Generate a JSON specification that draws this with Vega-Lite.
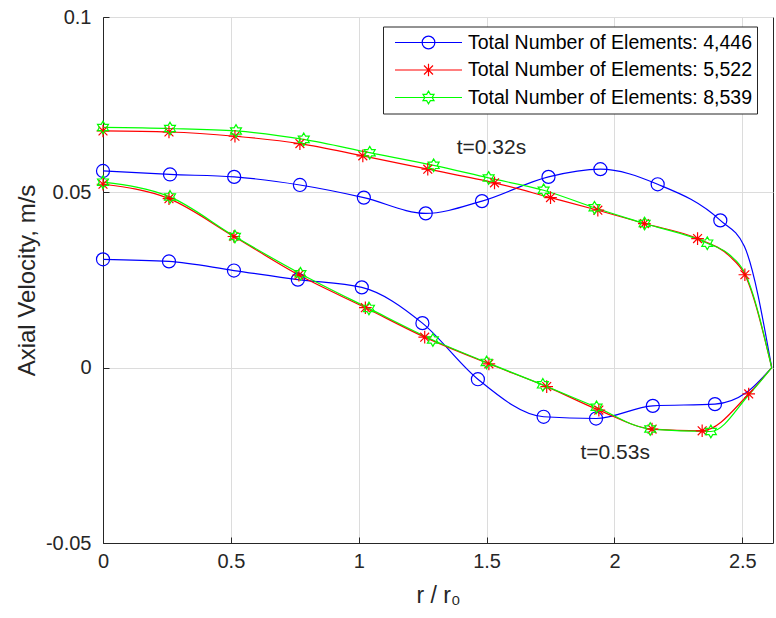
{
  "$schema": "https://vega.github.io/schema/vega-lite/v6.json",
  "width": 670,
  "height": 526,
  "autosize": {"type": "none"},
  "padding": {"left": 103, "top": 17, "right": 3, "bottom": 75},
  "background": "white",
  "datasets": {
    "curves": [
      {"series": "Total Number of Elements: 4,446", "t": "0.32s", "r": 0, "v": 0.0561},
      {"series": "Total Number of Elements: 4,446", "t": "0.32s", "r": 0.262, "v": 0.0551},
      {"series": "Total Number of Elements: 4,446", "t": "0.32s", "r": 0.513, "v": 0.0544},
      {"series": "Total Number of Elements: 4,446", "t": "0.32s", "r": 0.77, "v": 0.0521},
      {"series": "Total Number of Elements: 4,446", "t": "0.32s", "r": 1.02, "v": 0.0485},
      {"series": "Total Number of Elements: 4,446", "t": "0.32s", "r": 1.262, "v": 0.044},
      {"series": "Total Number of Elements: 4,446", "t": "0.32s", "r": 1.482, "v": 0.0475},
      {"series": "Total Number of Elements: 4,446", "t": "0.32s", "r": 1.742, "v": 0.0544},
      {"series": "Total Number of Elements: 4,446", "t": "0.32s", "r": 1.945, "v": 0.0566},
      {"series": "Total Number of Elements: 4,446", "t": "0.32s", "r": 2.169, "v": 0.0523},
      {"series": "Total Number of Elements: 4,446", "t": "0.32s", "r": 2.414, "v": 0.042},
      {"series": "Total Number of Elements: 4,446", "t": "0.32s", "r": 2.508, "v": 0.0346},
      {"series": "Total Number of Elements: 4,446", "t": "0.32s", "r": 2.615, "v": 0},
      {"series": "Total Number of Elements: 4,446", "t": "0.53s", "r": 0, "v": 0.0309},
      {"series": "Total Number of Elements: 4,446", "t": "0.53s", "r": 0.258, "v": 0.0303},
      {"series": "Total Number of Elements: 4,446", "t": "0.53s", "r": 0.512, "v": 0.0277},
      {"series": "Total Number of Elements: 4,446", "t": "0.53s", "r": 0.762, "v": 0.0251},
      {"series": "Total Number of Elements: 4,446", "t": "0.53s", "r": 1.012, "v": 0.0229},
      {"series": "Total Number of Elements: 4,446", "t": "0.53s", "r": 1.249, "v": 0.0127},
      {"series": "Total Number of Elements: 4,446", "t": "0.53s", "r": 1.466, "v": -0.0033},
      {"series": "Total Number of Elements: 4,446", "t": "0.53s", "r": 1.723, "v": -0.014},
      {"series": "Total Number of Elements: 4,446", "t": "0.53s", "r": 1.928, "v": -0.0145},
      {"series": "Total Number of Elements: 4,446", "t": "0.53s", "r": 2.15, "v": -0.0109},
      {"series": "Total Number of Elements: 4,446", "t": "0.53s", "r": 2.393, "v": -0.0104},
      {"series": "Total Number of Elements: 4,446", "t": "0.53s", "r": 2.516, "v": -0.0071},
      {"series": "Total Number of Elements: 4,446", "t": "0.53s", "r": 2.615, "v": 0},
      {"series": "Total Number of Elements: 5,522", "t": "0.32s", "r": 0, "v": 0.0675},
      {"series": "Total Number of Elements: 5,522", "t": "0.32s", "r": 0.258, "v": 0.0672},
      {"series": "Total Number of Elements: 5,522", "t": "0.32s", "r": 0.516, "v": 0.066},
      {"series": "Total Number of Elements: 5,522", "t": "0.32s", "r": 0.77, "v": 0.0639},
      {"series": "Total Number of Elements: 5,522", "t": "0.32s", "r": 1.016, "v": 0.0604},
      {"series": "Total Number of Elements: 5,522", "t": "0.32s", "r": 1.27, "v": 0.0566},
      {"series": "Total Number of Elements: 5,522", "t": "0.32s", "r": 1.531, "v": 0.0527},
      {"series": "Total Number of Elements: 5,522", "t": "0.32s", "r": 1.75, "v": 0.0485},
      {"series": "Total Number of Elements: 5,522", "t": "0.32s", "r": 1.935, "v": 0.0449},
      {"series": "Total Number of Elements: 5,522", "t": "0.32s", "r": 2.117, "v": 0.0411},
      {"series": "Total Number of Elements: 5,522", "t": "0.32s", "r": 2.325, "v": 0.0368},
      {"series": "Total Number of Elements: 5,522", "t": "0.32s", "r": 2.45, "v": 0.0318},
      {"series": "Total Number of Elements: 5,522", "t": "0.32s", "r": 2.51, "v": 0.0265},
      {"series": "Total Number of Elements: 5,522", "t": "0.32s", "r": 2.615, "v": 0},
      {"series": "Total Number of Elements: 5,522", "t": "0.53s", "r": 0, "v": 0.0523},
      {"series": "Total Number of Elements: 5,522", "t": "0.53s", "r": 0.258, "v": 0.0482},
      {"series": "Total Number of Elements: 5,522", "t": "0.53s", "r": 0.512, "v": 0.0374},
      {"series": "Total Number of Elements: 5,522", "t": "0.53s", "r": 0.766, "v": 0.0264},
      {"series": "Total Number of Elements: 5,522", "t": "0.53s", "r": 1.026, "v": 0.0171},
      {"series": "Total Number of Elements: 5,522", "t": "0.53s", "r": 1.258, "v": 0.0087},
      {"series": "Total Number of Elements: 5,522", "t": "0.53s", "r": 1.509, "v": 0.0011},
      {"series": "Total Number of Elements: 5,522", "t": "0.53s", "r": 1.735, "v": -0.0054},
      {"series": "Total Number of Elements: 5,522", "t": "0.53s", "r": 1.939, "v": -0.0121},
      {"series": "Total Number of Elements: 5,522", "t": "0.53s", "r": 2.147, "v": -0.0175},
      {"series": "Total Number of Elements: 5,522", "t": "0.53s", "r": 2.343, "v": -0.018},
      {"series": "Total Number of Elements: 5,522", "t": "0.53s", "r": 2.525, "v": -0.0075},
      {"series": "Total Number of Elements: 5,522", "t": "0.53s", "r": 2.615, "v": 0},
      {"series": "Total Number of Elements: 8,539", "t": "0.32s", "r": 0, "v": 0.0685},
      {"series": "Total Number of Elements: 8,539", "t": "0.32s", "r": 0.262, "v": 0.0682},
      {"series": "Total Number of Elements: 8,539", "t": "0.32s", "r": 0.52, "v": 0.0675},
      {"series": "Total Number of Elements: 8,539", "t": "0.32s", "r": 0.785, "v": 0.0651},
      {"series": "Total Number of Elements: 8,539", "t": "0.32s", "r": 1.043, "v": 0.0613},
      {"series": "Total Number of Elements: 8,539", "t": "0.32s", "r": 1.293, "v": 0.0577},
      {"series": "Total Number of Elements: 8,539", "t": "0.32s", "r": 1.508, "v": 0.0541},
      {"series": "Total Number of Elements: 8,539", "t": "0.32s", "r": 1.723, "v": 0.0506},
      {"series": "Total Number of Elements: 8,539", "t": "0.32s", "r": 1.922, "v": 0.0456},
      {"series": "Total Number of Elements: 8,539", "t": "0.32s", "r": 2.118, "v": 0.0411},
      {"series": "Total Number of Elements: 8,539", "t": "0.32s", "r": 2.363, "v": 0.0355},
      {"series": "Total Number of Elements: 8,539", "t": "0.32s", "r": 2.45, "v": 0.0322},
      {"series": "Total Number of Elements: 8,539", "t": "0.32s", "r": 2.51, "v": 0.027},
      {"series": "Total Number of Elements: 8,539", "t": "0.32s", "r": 2.615, "v": 0},
      {"series": "Total Number of Elements: 8,539", "t": "0.53s", "r": 0, "v": 0.0529},
      {"series": "Total Number of Elements: 8,539", "t": "0.53s", "r": 0.262, "v": 0.0487},
      {"series": "Total Number of Elements: 8,539", "t": "0.53s", "r": 0.516, "v": 0.0374},
      {"series": "Total Number of Elements: 8,539", "t": "0.53s", "r": 0.772, "v": 0.0268},
      {"series": "Total Number of Elements: 8,539", "t": "0.53s", "r": 1.04, "v": 0.0169},
      {"series": "Total Number of Elements: 8,539", "t": "0.53s", "r": 1.29, "v": 0.0079},
      {"series": "Total Number of Elements: 8,539", "t": "0.53s", "r": 1.5, "v": 0.0015},
      {"series": "Total Number of Elements: 8,539", "t": "0.53s", "r": 1.72, "v": -0.0049},
      {"series": "Total Number of Elements: 8,539", "t": "0.53s", "r": 1.93, "v": -0.0113},
      {"series": "Total Number of Elements: 8,539", "t": "0.53s", "r": 2.14, "v": -0.0175},
      {"series": "Total Number of Elements: 8,539", "t": "0.53s", "r": 2.377, "v": -0.0182},
      {"series": "Total Number of Elements: 8,539", "t": "0.53s", "r": 2.525, "v": -0.0078},
      {"series": "Total Number of Elements: 8,539", "t": "0.53s", "r": 2.615, "v": 0}
    ],
    "markers": [
      {"series": "Total Number of Elements: 4,446", "r": 0, "v": 0.0561},
      {"series": "Total Number of Elements: 4,446", "r": 0.262, "v": 0.0551},
      {"series": "Total Number of Elements: 4,446", "r": 0.513, "v": 0.0544},
      {"series": "Total Number of Elements: 4,446", "r": 0.77, "v": 0.0521},
      {"series": "Total Number of Elements: 4,446", "r": 1.02, "v": 0.0485},
      {"series": "Total Number of Elements: 4,446", "r": 1.262, "v": 0.044},
      {"series": "Total Number of Elements: 4,446", "r": 1.482, "v": 0.0475},
      {"series": "Total Number of Elements: 4,446", "r": 1.742, "v": 0.0544},
      {"series": "Total Number of Elements: 4,446", "r": 1.945, "v": 0.0566},
      {"series": "Total Number of Elements: 4,446", "r": 2.169, "v": 0.0523},
      {"series": "Total Number of Elements: 4,446", "r": 2.414, "v": 0.042},
      {"series": "Total Number of Elements: 4,446", "r": 0, "v": 0.0309},
      {"series": "Total Number of Elements: 4,446", "r": 0.258, "v": 0.0303},
      {"series": "Total Number of Elements: 4,446", "r": 0.512, "v": 0.0277},
      {"series": "Total Number of Elements: 4,446", "r": 0.762, "v": 0.0251},
      {"series": "Total Number of Elements: 4,446", "r": 1.012, "v": 0.0229},
      {"series": "Total Number of Elements: 4,446", "r": 1.249, "v": 0.0127},
      {"series": "Total Number of Elements: 4,446", "r": 1.466, "v": -0.0033},
      {"series": "Total Number of Elements: 4,446", "r": 1.723, "v": -0.014},
      {"series": "Total Number of Elements: 4,446", "r": 1.928, "v": -0.0145},
      {"series": "Total Number of Elements: 4,446", "r": 2.15, "v": -0.0109},
      {"series": "Total Number of Elements: 4,446", "r": 2.393, "v": -0.0104},
      {"series": "Total Number of Elements: 5,522", "r": 0, "v": 0.0675},
      {"series": "Total Number of Elements: 5,522", "r": 0.258, "v": 0.0672},
      {"series": "Total Number of Elements: 5,522", "r": 0.516, "v": 0.066},
      {"series": "Total Number of Elements: 5,522", "r": 0.77, "v": 0.0639},
      {"series": "Total Number of Elements: 5,522", "r": 1.016, "v": 0.0604},
      {"series": "Total Number of Elements: 5,522", "r": 1.27, "v": 0.0566},
      {"series": "Total Number of Elements: 5,522", "r": 1.531, "v": 0.0527},
      {"series": "Total Number of Elements: 5,522", "r": 1.75, "v": 0.0485},
      {"series": "Total Number of Elements: 5,522", "r": 1.935, "v": 0.0449},
      {"series": "Total Number of Elements: 5,522", "r": 2.117, "v": 0.0411},
      {"series": "Total Number of Elements: 5,522", "r": 2.325, "v": 0.0368},
      {"series": "Total Number of Elements: 5,522", "r": 2.51, "v": 0.0265},
      {"series": "Total Number of Elements: 5,522", "r": 0, "v": 0.0523},
      {"series": "Total Number of Elements: 5,522", "r": 0.258, "v": 0.0482},
      {"series": "Total Number of Elements: 5,522", "r": 0.512, "v": 0.0374},
      {"series": "Total Number of Elements: 5,522", "r": 0.766, "v": 0.0264},
      {"series": "Total Number of Elements: 5,522", "r": 1.026, "v": 0.0171},
      {"series": "Total Number of Elements: 5,522", "r": 1.258, "v": 0.0087},
      {"series": "Total Number of Elements: 5,522", "r": 1.509, "v": 0.0011},
      {"series": "Total Number of Elements: 5,522", "r": 1.735, "v": -0.0054},
      {"series": "Total Number of Elements: 5,522", "r": 1.939, "v": -0.0121},
      {"series": "Total Number of Elements: 5,522", "r": 2.147, "v": -0.0175},
      {"series": "Total Number of Elements: 5,522", "r": 2.343, "v": -0.018},
      {"series": "Total Number of Elements: 5,522", "r": 2.525, "v": -0.0075},
      {"series": "Total Number of Elements: 8,539", "r": 0, "v": 0.0685},
      {"series": "Total Number of Elements: 8,539", "r": 0.262, "v": 0.0682},
      {"series": "Total Number of Elements: 8,539", "r": 0.52, "v": 0.0675},
      {"series": "Total Number of Elements: 8,539", "r": 0.785, "v": 0.0651},
      {"series": "Total Number of Elements: 8,539", "r": 1.043, "v": 0.0613},
      {"series": "Total Number of Elements: 8,539", "r": 1.293, "v": 0.0577},
      {"series": "Total Number of Elements: 8,539", "r": 1.508, "v": 0.0541},
      {"series": "Total Number of Elements: 8,539", "r": 1.723, "v": 0.0506},
      {"series": "Total Number of Elements: 8,539", "r": 1.922, "v": 0.0456},
      {"series": "Total Number of Elements: 8,539", "r": 2.118, "v": 0.0411},
      {"series": "Total Number of Elements: 8,539", "r": 2.363, "v": 0.0355},
      {"series": "Total Number of Elements: 8,539", "r": 0, "v": 0.0529},
      {"series": "Total Number of Elements: 8,539", "r": 0.262, "v": 0.0487},
      {"series": "Total Number of Elements: 8,539", "r": 0.516, "v": 0.0374},
      {"series": "Total Number of Elements: 8,539", "r": 0.772, "v": 0.0268},
      {"series": "Total Number of Elements: 8,539", "r": 1.04, "v": 0.0169},
      {"series": "Total Number of Elements: 8,539", "r": 1.29, "v": 0.0079},
      {"series": "Total Number of Elements: 8,539", "r": 1.5, "v": 0.0015},
      {"series": "Total Number of Elements: 8,539", "r": 1.72, "v": -0.0049},
      {"series": "Total Number of Elements: 8,539", "r": 1.93, "v": -0.0113},
      {"series": "Total Number of Elements: 8,539", "r": 2.14, "v": -0.0175},
      {"series": "Total Number of Elements: 8,539", "r": 2.377, "v": -0.0182}
    ],
    "notes": [
      {"label": "t=0.32s", "r": 1.383, "v": 0.0626},
      {"label": "t=0.53s", "r": 1.867, "v": -0.0243}
    ]
  },
  "layer": [
    {
      "data": {"name": "curves"},
      "mark": {"type": "line", "interpolate": "monotone", "strokeWidth": 1.2},
      "encoding": {
        "x": {"field": "r", "type": "quantitative"},
        "y": {"field": "v", "type": "quantitative"},
        "color": {
          "field": "series", "type": "nominal",
          "scale": {
            "domain": ["Total Number of Elements: 4,446", "Total Number of Elements: 5,522", "Total Number of Elements: 8,539"],
            "range": ["#0000ff", "#ff0000", "#00ff00"]
          }
        },
        "detail": {"field": "t", "type": "nominal"}
      }
    },
    {
      "data": {"name": "markers"},
      "transform": [{"filter": "datum.series == 'Total Number of Elements: 4,446'"}],
      "mark": {"type": "point", "filled": false, "strokeWidth": 1.2, "size": 170, "opacity": 1, "color": "#0000ff",
        "shape": "M-1,0A1,1 0 1,0 1,0A1,1 0 1,0 -1,0Z"},
      "encoding": {
        "x": {"field": "r", "type": "quantitative"},
        "y": {"field": "v", "type": "quantitative"}
      }
    },
    {
      "data": {"name": "markers"},
      "transform": [{"filter": "datum.series == 'Total Number of Elements: 5,522'"}],
      "mark": {"type": "point", "filled": false, "strokeWidth": 1.2, "size": 160, "opacity": 1, "color": "#ff0000",
        "shape": "M-1,0H1M0,-1V1M-0.7,-0.7L0.7,0.7M-0.7,0.7L0.7,-0.7"},
      "encoding": {
        "x": {"field": "r", "type": "quantitative"},
        "y": {"field": "v", "type": "quantitative"}
      }
    },
    {
      "data": {"name": "markers"},
      "transform": [{"filter": "datum.series == 'Total Number of Elements: 8,539'"}],
      "mark": {"type": "point", "filled": false, "strokeWidth": 1.2, "size": 160, "opacity": 1, "color": "#00ff00",
        "shape": "M0,-1L0.289,-0.5L0.866,-0.5L0.577,0L0.866,0.5L0.289,0.5L0,1L-0.289,0.5L-0.866,0.5L-0.577,0L-0.866,-0.5L-0.289,-0.5Z"},
      "encoding": {
        "x": {"field": "r", "type": "quantitative"},
        "y": {"field": "v", "type": "quantitative"}
      }
    },
    {
      "data": {"name": "markers"},
      "transform": [{"filter": "false"}],
      "mark": {"type": "point", "filled": false, "strokeWidth": 1.2, "size": 160, "opacity": 1},
      "encoding": {
        "x": {"field": "r", "type": "quantitative"},
        "y": {"field": "v", "type": "quantitative"},
        "color": {
          "field": "series", "type": "nominal",
          "scale": {
            "domain": ["Total Number of Elements: 4,446", "Total Number of Elements: 5,522", "Total Number of Elements: 8,539"],
            "range": ["#0000ff", "#ff0000", "#00ff00"]
          },
          "legend": {
            "title": null,
            "orient": "none",
            "legendX": 280,
            "legendY": 9.5,
            "direction": "vertical",
            "strokeColor": "#262626",
            "fillColor": "white",
            "padding": 5,
            "labelFont": "Liberation Sans",
            "labelFontSize": 19.5,
            "labelColor": "#000000",
            "labelLimit": 0,
            "labelExpr": "datum.label + '    '",
            "symbolSize": 4489,
            "symbolFillColor": "transparent",
            "symbolStrokeWidth": 1.2,
            "clipHeight": 22,
            "rowPadding": 5.5,
            "labelOffset": 5,
            "symbolOffset": 6,
            "encode": {
              "symbols": {
                "update": {
                  "fill": {"value": "transparent"},
                  "fillOpacity": {"value": 0},
                  "strokeOpacity": {"value": 1},
                  "opacity": {"value": 1}
                }
              }
            }
          }
        },
        "shape": {"field": "series", "type": "nominal", "legend": null,
          "scale": {
            "domain": ["Total Number of Elements: 4,446", "Total Number of Elements: 5,522", "Total Number of Elements: 8,539"],
            "range": [
              "M-1,0H1M-0.19,0A0.19,0.19 0 1,0 0.19,0A0.19,0.19 0 1,0 -0.19,0",
              "M-1,0H1M0,-0.19V0.19M-0.134,-0.134L0.134,0.134M-0.134,0.134L0.134,-0.134",
              "M-1,0H1M0,-0.19L0.055,-0.095L0.165,-0.095L0.11,0L0.165,0.095L0.055,0.095L0,0.19L-0.055,0.095L-0.165,0.095L-0.11,0L-0.165,-0.095L-0.055,-0.095Z"
            ]
          }
        }
      }
    },
    {
      "data": {"name": "notes"},
      "mark": {"type": "text", "align": "left", "baseline": "middle", "font": "Liberation Sans", "fontSize": 21, "fill": "#262626"},
      "encoding": {
        "x": {"field": "r", "type": "quantitative"},
        "y": {"field": "v", "type": "quantitative"},
        "text": {"field": "label", "type": "nominal"}
      }
    }
  ],
  "encoding": {
    "x": {
      "field": "r", "type": "quantitative",
      "scale": {"domain": [0, 2.62], "nice": false, "zero": false},
      "axis": {"title": "r / r₀", "values": [0, 0.5, 1, 1.5, 2, 2.5], "labelExpr": "'' + datum.value", "labelPadding": 14, "titlePadding": 13, "titleFontSize": 23}
    },
    "y": {
      "field": "v", "type": "quantitative",
      "scale": {"domain": [-0.05, 0.1], "nice": false, "zero": false},
      "axis": {"title": "Axial Velocity, m/s", "values": [-0.05, 0, 0.05, 0.1], "labelExpr": "'' + datum.value", "labelPadding": 18, "titlePadding": 6, "titleFontSize": 24}
    }
  },
  "config": {
    "view": {"stroke": "#262626", "strokeWidth": 1},
    "font": "Liberation Sans",
    "axis": {
      "domainColor": "#262626",
      "tickColor": "#262626",
      "labelColor": "#262626",
      "titleColor": "#262626",
      "gridColor": "#dcdcdc",
      "grid": true,
      "labelFont": "Liberation Sans",
      "titleFont": "Liberation Sans",
      "labelFontSize": 20,
      "titleFontSize": 22,
      "titleFontWeight": "normal",
      "tickSize": -6,
      "labelOverlap": false,
      "labelFlush": false
    }
  }
}
